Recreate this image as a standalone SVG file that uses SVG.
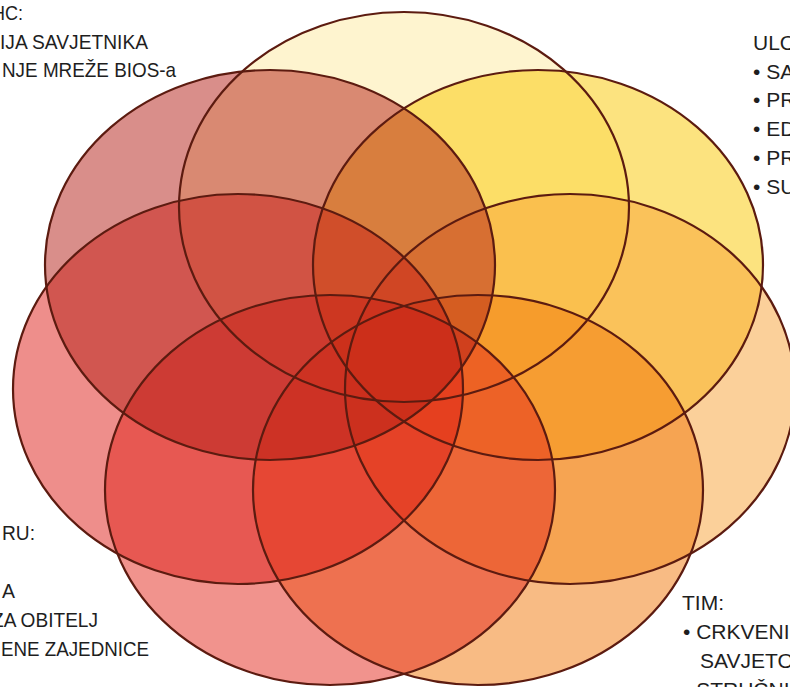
<svg xmlns="http://www.w3.org/2000/svg" width="790" height="687" viewBox="0 0 790 687">
<style>
.f{fill-opacity:0.5;stroke:none}
.o{fill:none;stroke:#5C1B10;stroke-width:2.2}
text{font-family:"Liberation Sans",Arial,sans-serif;font-size:21px;fill:#1E1E1E}
</style>
<rect width="790" height="687" fill="#ffffff"/>
<g id="ellipse-top"><ellipse class="f" cx="404" cy="207" rx="225" ry="195" fill="#FDE99F"/></g>
<g id="ellipse-upper-right"><ellipse class="f" cx="538" cy="265" rx="225" ry="195" fill="#F9C700"/></g>
<g id="ellipse-right"><ellipse class="f" cx="570" cy="389" rx="225" ry="195" fill="#F7A135"/></g>
<g id="ellipse-lower-right"><ellipse class="f" cx="478" cy="490" rx="225" ry="195" fill="#F17709"/></g>
<g id="ellipse-lower-left"><ellipse class="f" cx="330" cy="490" rx="225" ry="195" fill="#E4281C"/></g>
<g id="ellipse-left"><ellipse class="f" cx="238" cy="389" rx="225" ry="195" fill="#DE1E18"/></g>
<g id="ellipse-upper-left"><ellipse class="f" cx="270" cy="265" rx="225" ry="195" fill="#B41E16"/></g>
<g id="outlines">
<ellipse class="o" cx="404" cy="207" rx="225" ry="195"/>
<ellipse class="o" cx="538" cy="265" rx="225" ry="195"/>
<ellipse class="o" cx="570" cy="389" rx="225" ry="195"/>
<ellipse class="o" cx="478" cy="490" rx="225" ry="195"/>
<ellipse class="o" cx="330" cy="490" rx="225" ry="195"/>
<ellipse class="o" cx="238" cy="389" rx="225" ry="195"/>
<ellipse class="o" cx="270" cy="265" rx="225" ry="195"/>
</g>
<g id="text-top-left" text-anchor="end">
<text x="23" y="20" textLength="31" lengthAdjust="spacingAndGlyphs">HC:</text>
<text x="148" y="49" textLength="148" lengthAdjust="spacingAndGlyphs">IJA SAVJETNIKA</text>
<text x="176" y="77" textLength="174" lengthAdjust="spacingAndGlyphs">NJE MREŽE BIOS-a</text>
</g>
<g id="text-top-right">
<text x="753" y="50">ULO</text>
<text x="753" y="79">• SA</text>
<text x="753" y="107">• PR</text>
<text x="753" y="136">• ED</text>
<text x="753" y="165">• PR</text>
<text x="753" y="194">• SU</text>
</g>
<g id="text-bottom-left" text-anchor="end">
<text x="35" y="540" textLength="33" lengthAdjust="spacingAndGlyphs">RU:</text>
<text x="15" y="598" textLength="13" lengthAdjust="spacingAndGlyphs">A</text>
<text x="98" y="627" textLength="106" lengthAdjust="spacingAndGlyphs">ZA OBITELJ</text>
<text x="149" y="656" textLength="148" lengthAdjust="spacingAndGlyphs">ENE ZAJEDNICE</text>
</g>
<g id="text-bottom-right">
<text x="682" y="610">TIM:</text>
<text x="683" y="639">• CRKVENI</text>
<text x="700" y="668">SAVJETO</text>
<text x="683" y="697">• STRUČNI</text>
</g>
</svg>
